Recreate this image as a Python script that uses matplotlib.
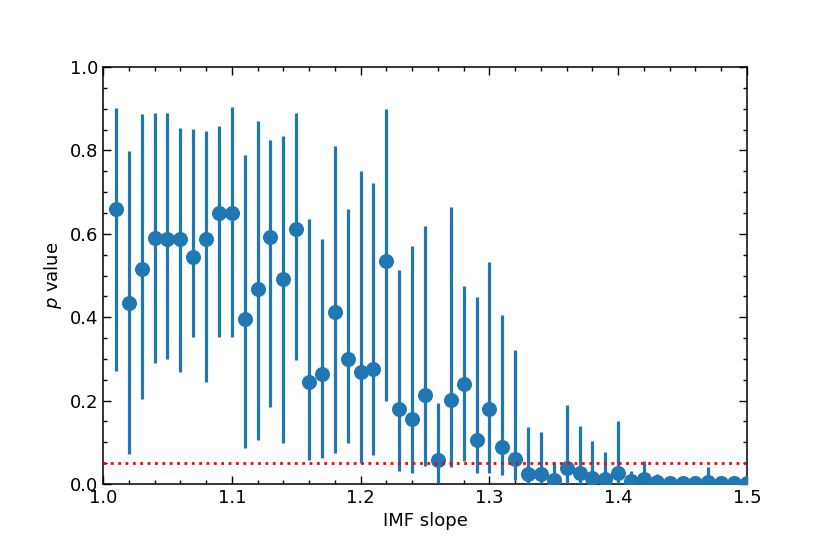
import matplotlib
matplotlib.use("Agg")
import matplotlib.pyplot as plt
import numpy as np
from matplotlib.ticker import AutoMinorLocator

slopes = [1.01, 1.02, 1.03, 1.04, 1.05, 1.06, 1.07, 1.08, 1.09, 1.10,
          1.11, 1.12, 1.13, 1.14, 1.15, 1.16, 1.17, 1.18, 1.19, 1.20,
          1.21, 1.22, 1.23, 1.24, 1.25, 1.26, 1.27, 1.28, 1.29, 1.30,
          1.31, 1.32, 1.33, 1.34, 1.35, 1.36, 1.37, 1.38, 1.39, 1.40,
          1.41, 1.42, 1.43, 1.44, 1.45, 1.46, 1.47, 1.48, 1.49, 1.50]
p_median = [0.659, 0.433, 0.516, 0.589, 0.587, 0.587, 0.544, 0.587, 0.651, 0.651,
            0.395, 0.468, 0.592, 0.492, 0.612, 0.245, 0.263, 0.412, 0.299, 0.269,
            0.276, 0.535, 0.181, 0.155, 0.213, 0.058, 0.201, 0.240, 0.106, 0.180,
            0.088, 0.061, 0.024, 0.024, 0.010, 0.038, 0.027, 0.014, 0.013, 0.027,
            0.006, 0.012, 0.005, 0.002, 0.002, 0.002, 0.005, 0.002, 0.002, 0.002]
p_low = [0.271, 0.071, 0.204, 0.289, 0.300, 0.269, 0.352, 0.245, 0.352, 0.352,
         0.086, 0.106, 0.185, 0.098, 0.297, 0.058, 0.062, 0.075, 0.098, 0.050,
         0.070, 0.200, 0.030, 0.026, 0.043, 0.003, 0.040, 0.054, 0.026, 0.026,
         0.022, 0.010, 0.000, 0.000, 0.000, 0.000, 0.000, 0.000, 0.000, 0.000,
         0.000, 0.000, 0.000, 0.000, 0.000, 0.000, 0.000, 0.000, 0.000, 0.000]
p_high = [0.902, 0.799, 0.887, 0.889, 0.889, 0.853, 0.851, 0.847, 0.858, 0.904,
          0.789, 0.870, 0.825, 0.835, 0.889, 0.636, 0.587, 0.811, 0.660, 0.751,
          0.721, 0.899, 0.513, 0.571, 0.619, 0.194, 0.664, 0.476, 0.448, 0.533,
          0.405, 0.322, 0.137, 0.125, 0.052, 0.189, 0.140, 0.104, 0.076, 0.150,
          0.031, 0.056, 0.024, 0.002, 0.002, 0.002, 0.041, 0.002, 0.002, 0.002]
threshold = 0.05

x = np.array(slopes)
y = np.array(p_median)
lo = np.array(p_low)
hi = np.array(p_high)
yerr = np.vstack([np.clip(y - lo, 0, None), np.clip(hi - y, 0, None)])

fig = plt.figure(figsize=(8.3, 5.54), dpi=100)
ax = fig.add_axes([103/830, 1 - 484/554, (747-103)/830, (484-67)/554])

ax.errorbar(x, y, yerr=yerr, fmt='o', color='#1f77b4', ms=9.8,
            elinewidth=2.3, capsize=0, zorder=3)
ax.axhline(threshold, color='red', ls=':', lw=2, zorder=4)

ax.set_xlim(1.0, 1.5)
ax.set_ylim(0.0, 1.0)
ax.set_xticks([1.0, 1.1, 1.2, 1.3, 1.4, 1.5])
ax.set_yticks([0.0, 0.2, 0.4, 0.6, 0.8, 1.0])
ax.xaxis.set_minor_locator(AutoMinorLocator(5))
ax.yaxis.set_minor_locator(AutoMinorLocator(4))
ax.tick_params(which='both', direction='in', top=True, right=True, labelsize=13)
ax.tick_params(which='major', length=5.5, width=1)
ax.tick_params(which='minor', length=3, width=1)
for s in ax.spines.values():
    s.set_linewidth(1.1)

ax.set_xlabel('IMF slope', fontsize=13)
ax.set_ylabel('$p$ value', fontsize=13)

fig.savefig('out.png', dpi=100)
